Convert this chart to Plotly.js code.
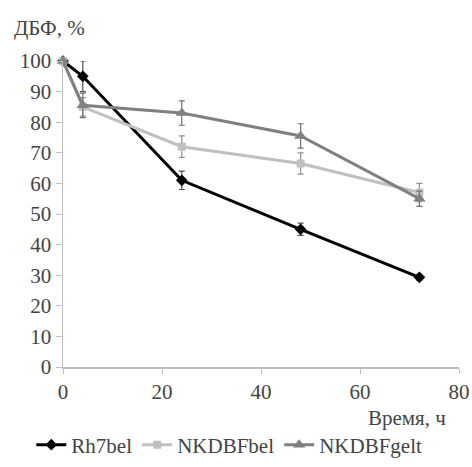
<!DOCTYPE html>
<html><head><meta charset="utf-8">
<script src="https://cdn.plot.ly/plotly-3.0.1.min.js"></script>
<style>
body{margin:0}
#c{width:472px;height:467px}
</style>
</head><body><div id="c"></div>
<script>
const hours = [0, 4, 24, 48, 72];
const rh7bel = [100, 95, 61, 45, 29.3];
const rh7belErr = [0, 5, 3, 2, 1];
const nkdbfBel = [100, 85, 72, 66.5, 57];
const nkdbfBelErr = [0, 3, 3.5, 3.5, 3];
const nkdbfGelt = [100, 85.5, 83, 75.5, 55];
const nkdbfGeltErr = [0, 4, 4, 4, 2.5];
const names = ['Rh7bel', 'NKDBFbel', 'NKDBFgelt'];
const xTicks = [0, 20, 40, 60, 80];
const yTicks = [0, 10, 20, 30, 40, 50, 60, 70, 80, 90, 100];

function tr(y, err, name, color, sym, size, ecol) {
  return {x: hours, y: y, name: name, type: 'scatter', mode: 'lines+markers',
    line: {color: color, width: 3}, marker: {symbol: sym, size: size, color: color},
    error_y: {type: 'data', array: err, visible: true, color: ecol, thickness: 1.2, width: 3},
    cliponaxis: false};
}
const data = [
  tr(rh7bel, rh7belErr, names[0], '#000000', 'diamond', 9, '#505050'),
  tr(nkdbfBel, nkdbfBelErr, names[1], '#c0c0c0', 'square', 8, '#909090'),
  tr(nkdbfGelt, nkdbfGeltErr, names[2], '#808080', 'triangle-up', 11, '#707070')
];
const layout = {
  width: 472, height: 467, margin: {l: 63, r: 13, t: 61, b: 100, autoexpand: false},
  font: {family: 'Liberation Serif', size: 21},
  showlegend: true,
  xaxis: {range: [0, 80], tickvals: xTicks, showgrid: false, zeroline: false,
    showline: true, linecolor: '#bfbfbf', linewidth: 1.5, ticks: 'outside', ticklen: 5,
    tickcolor: '#bfbfbf'},
  yaxis: {range: [0, 100], tickvals: yTicks, showgrid: false, zeroline: false,
    showline: true, linecolor: '#bfbfbf', linewidth: 1.5, ticks: 'outside', ticklen: 6,
    tickcolor: '#bfbfbf'},
  legend: {orientation: 'h', x: 0.42, xanchor: 'center', yref: 'container', y: 0.047, yanchor: 'middle',
    itemwidth: 30},
  annotations: [
    {text: 'ДБФ, %', xref: 'paper', yref: 'paper', x: -0.13, xanchor: 'left', y: 1.108, yanchor: 'middle', showarrow: false},
    {text: 'Время, ч', xref: 'paper', yref: 'paper', x: 0.972, xanchor: 'right', y: -0.167, yanchor: 'middle', showarrow: false}
  ]
};
Plotly.newPlot('c', data, layout, {displayModeBar: false, staticPlot: true});
</script></body></html>
